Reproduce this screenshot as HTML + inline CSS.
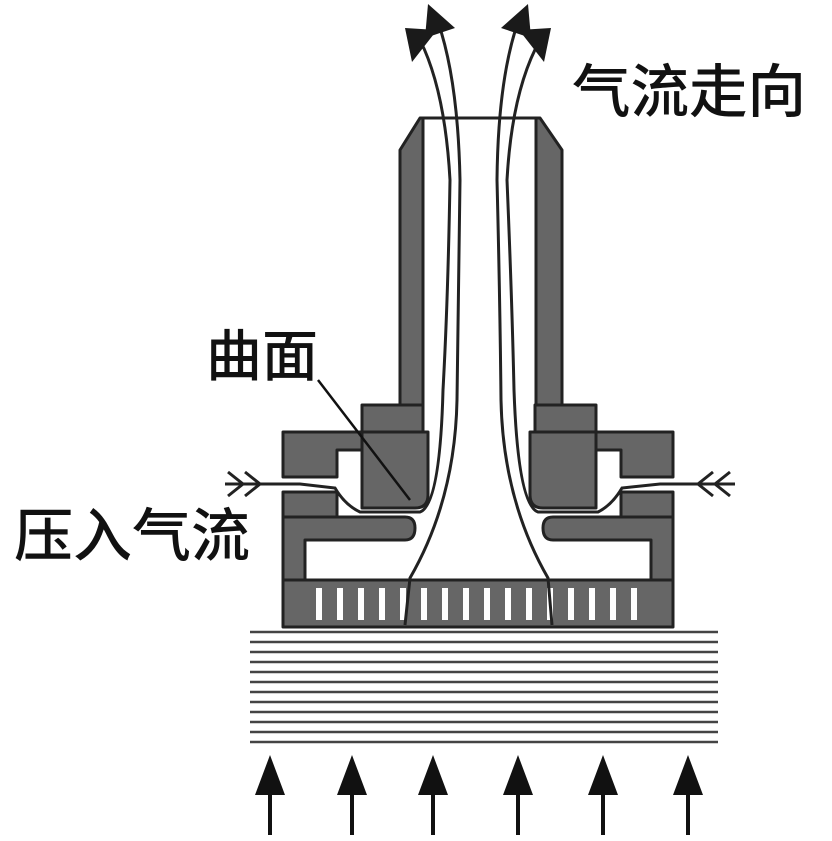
<!DOCTYPE html>
<html><head><meta charset="utf-8"><style>
html,body{margin:0;padding:0;background:#fff;}
svg{display:block;}
text{font-family:"Liberation Sans","Noto Sans CJK SC",sans-serif;fill:#111;font-weight:500;}
</style></head><body>
<svg width="832" height="841" viewBox="0 0 832 841" xmlns="http://www.w3.org/2000/svg">
<g fill="#666" stroke="#222" stroke-width="3" stroke-linejoin="round">
<polygon points="400,150 420,118 423,118 423,405 400,405"/>
<polygon points="562,150 540,118 536,118 536,405 562,405"/>
<polygon points="362,405 423,405 423,432 362,432"/>
<path d="M362,432 L428,432 L428,495 Q428,508 415,508 L362,508 Z"/>
<polygon points="283,432 362,432 362,450 337,450 337,477 300,477 283,477"/>
<polygon points="283,492 337,492 337,517 283,517"/>
<path d="M283,517 L405,517 Q415,517 415,528 Q415,540 405,540 L305,540 L305,580 L283,580 Z"/>
<polygon points="535,405 596,405 596,432 535,432"/>
<path d="M596,432 L530,432 L530,495 Q530,508 543,508 L596,508 Z"/>
<polygon points="673,432 596,432 596,450 621,450 621,477 673,477"/>
<polygon points="673,492 621,492 621,517 673,517"/>
<path d="M673,517 L553,517 Q543,517 543,528 Q543,540 553,540 L651,540 L651,580 L673,580 Z"/>
<rect x="283" y="580" width="390" height="47"/>
</g>
<line x1="420" y1="118" x2="540" y2="118" stroke="#222" stroke-width="3"/>
<g fill="#fff">
<rect x="316" y="588" width="6" height="32"/><rect x="337" y="588" width="6" height="32"/><rect x="358" y="588" width="6" height="32"/><rect x="379" y="588" width="6" height="32"/><rect x="400" y="588" width="6" height="32"/><rect x="421" y="588" width="6" height="32"/><rect x="442" y="588" width="6" height="32"/><rect x="463" y="588" width="6" height="32"/><rect x="484" y="588" width="6" height="32"/><rect x="505" y="588" width="6" height="32"/><rect x="526" y="588" width="6" height="32"/><rect x="547" y="588" width="6" height="32"/><rect x="568" y="588" width="6" height="32"/><rect x="589" y="588" width="6" height="32"/><rect x="610" y="588" width="6" height="32"/><rect x="631" y="588" width="6" height="32"/>
</g>
<g fill="none" stroke="#222" stroke-width="3">
<path d="M420,40 Q445,90 450,180 Q448,300 443,390 Q440,505 420,512 L360,512 Q345,505 335,488 L300,484 L225,484"/>
<path d="M438,22 Q458,80 460,180 Q458,300 457,400 Q455,500 410,578 L405,625"/>
<path d="M518,22 Q498,80 497,180 Q500,300 501,400 Q503,500 548,578 L552,625"/>
<path d="M540,40 Q512,90 507,180 Q512,300 514,390 Q518,505 538,512 L598,512 Q612,505 622,488 L660,484 L735,484"/>
</g>
<g fill="#1a1a1a">
<polygon points="405,28 437,30 412,62"/>
<polygon points="428,4 455,28 425,38"/>
<polygon points="551,28 519,30 544,62"/>
<polygon points="528,4 501,28 531,38"/>
</g>
<g fill="none" stroke="#222" stroke-width="3">
<path d="M228,472 L243,484 L228,496 M245,472 L260,484 L245,496"/>
<path d="M730,472 L715,484 L730,496 M713,472 L698,484 L713,496"/>
</g>
<line x1="318" y1="380" x2="410" y2="500" stroke="#111" stroke-width="2.5"/>
<g stroke="#444" stroke-width="2.5">
<line x1="250" y1="632" x2="718" y2="632"/><line x1="250" y1="642" x2="718" y2="642"/><line x1="250" y1="652" x2="718" y2="652"/><line x1="250" y1="662" x2="718" y2="662"/><line x1="250" y1="672" x2="718" y2="672"/><line x1="250" y1="682" x2="718" y2="682"/><line x1="250" y1="692" x2="718" y2="692"/><line x1="250" y1="702" x2="718" y2="702"/><line x1="250" y1="712" x2="718" y2="712"/><line x1="250" y1="722" x2="718" y2="722"/><line x1="250" y1="732" x2="718" y2="732"/><line x1="250" y1="742" x2="718" y2="742"/>
</g>
<g stroke="#111" stroke-width="4" fill="#111">
<line x1="270" y1="835" x2="270" y2="785"/><polygon points="270,755 255,795 285,795" stroke="none"/>
<line x1="352" y1="835" x2="352" y2="785"/><polygon points="352,755 337,795 367,795" stroke="none"/>
<line x1="433" y1="835" x2="433" y2="785"/><polygon points="433,755 418,795 448,795" stroke="none"/>
<line x1="518" y1="835" x2="518" y2="785"/><polygon points="518,755 503,795 533,795" stroke="none"/>
<line x1="603" y1="835" x2="603" y2="785"/><polygon points="603,755 588,795 618,795" stroke="none"/>
<line x1="688" y1="835" x2="688" y2="785"/><polygon points="688,755 673,795 703,795" stroke="none"/>
</g>
<text x="572" y="112" font-size="58" textLength="234" lengthAdjust="spacingAndGlyphs">气流走向</text>
<text x="206" y="376" font-size="56">曲面</text>
<text x="14" y="556" font-size="58" textLength="236" lengthAdjust="spacingAndGlyphs">压入气流</text>
</svg>
</body></html>
